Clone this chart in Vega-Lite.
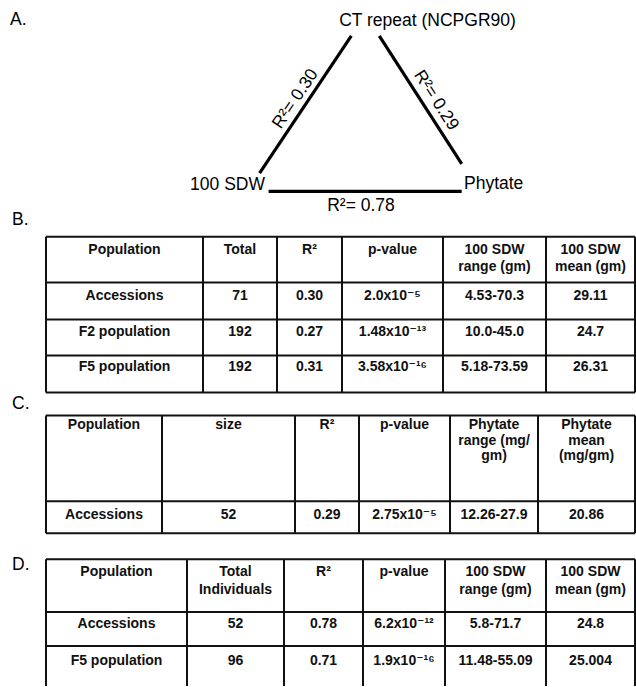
{
  "$schema": "https://vega.github.io/schema/vega-lite/v6.json",
  "width": 636,
  "height": 687,
  "padding": 0,
  "autosize": {"type": "fit", "contains": "padding"},
  "background": "white",
  "config": {"view": {"stroke": null}},
  "datasets": {
    "edges": [
      {"from": "100 SDW", "to": "CT repeat", "x": 259.6, "y": 173.3, "x2": 351.3, "y2": 36},
      {"from": "CT repeat", "to": "Phytate", "x": 379.3, "y": 36, "x2": 461.7, "y2": 164},
      {"from": "100 SDW", "to": "Phytate", "x": 268.6, "y": 191.7, "x2": 461.7, "y2": 191.7}
    ],
    "nodes_center": [
      {"label": "CT repeat (NCPGR90)", "x": 427.5, "y": 21},
      {"label": "R²= 0.78", "x": 361, "y": 206}
    ],
    "nodes_right": [
      {"label": "100 SDW", "x": 265, "y": 185}
    ],
    "nodes_left": [
      {"label": "Phytate", "x": 464, "y": 184}
    ],
    "edge_up": [
      {"label": "R²= 0.30", "x": 295.5, "y": 99}
    ],
    "edge_down": [
      {"label": "R²= 0.29", "x": 436, "y": 100.5}
    ],
    "panels": [
      {"label": "A.", "x": 10, "y": 20},
      {"label": "B.", "x": 12, "y": 220},
      {"label": "C.", "x": 12, "y": 405},
      {"label": "D.", "x": 12, "y": 566}
    ],
    "grid": [
      {"table": "B", "x": 46, "x2": 635, "y": 237, "y2": 237},
      {"table": "B", "x": 46, "x2": 635, "y": 283, "y2": 283},
      {"table": "B", "x": 46, "x2": 635, "y": 320, "y2": 320},
      {"table": "B", "x": 46, "x2": 635, "y": 356, "y2": 356},
      {"table": "B", "x": 46, "x2": 635, "y": 393, "y2": 393},
      {"table": "B", "x": 46, "x2": 46, "y": 237, "y2": 393},
      {"table": "B", "x": 203, "x2": 203, "y": 237, "y2": 393},
      {"table": "B", "x": 277, "x2": 277, "y": 237, "y2": 393},
      {"table": "B", "x": 342, "x2": 342, "y": 237, "y2": 393},
      {"table": "B", "x": 443, "x2": 443, "y": 237, "y2": 393},
      {"table": "B", "x": 546, "x2": 546, "y": 237, "y2": 393},
      {"table": "B", "x": 635, "x2": 635, "y": 237, "y2": 393},
      {"table": "C", "x": 46, "x2": 635, "y": 416, "y2": 416},
      {"table": "C", "x": 46, "x2": 635, "y": 502, "y2": 502},
      {"table": "C", "x": 46, "x2": 635, "y": 534, "y2": 534},
      {"table": "C", "x": 46, "x2": 46, "y": 416, "y2": 534},
      {"table": "C", "x": 162, "x2": 162, "y": 416, "y2": 534},
      {"table": "C", "x": 295, "x2": 295, "y": 416, "y2": 534},
      {"table": "C", "x": 359, "x2": 359, "y": 416, "y2": 534},
      {"table": "C", "x": 450, "x2": 450, "y": 416, "y2": 534},
      {"table": "C", "x": 538, "x2": 538, "y": 416, "y2": 534},
      {"table": "C", "x": 635, "x2": 635, "y": 416, "y2": 534},
      {"table": "D", "x": 46, "x2": 635, "y": 560, "y2": 560},
      {"table": "D", "x": 46, "x2": 635, "y": 613, "y2": 613},
      {"table": "D", "x": 46, "x2": 635, "y": 647, "y2": 647},
      {"table": "D", "x": 46, "x2": 46, "y": 560, "y2": 687},
      {"table": "D", "x": 187, "x2": 187, "y": 560, "y2": 687},
      {"table": "D", "x": 284, "x2": 284, "y": 560, "y2": 687},
      {"table": "D", "x": 363, "x2": 363, "y": 560, "y2": 687},
      {"table": "D", "x": 445, "x2": 445, "y": 560, "y2": 687},
      {"table": "D", "x": 546, "x2": 546, "y": 560, "y2": 687},
      {"table": "D", "x": 635, "x2": 635, "y": 560, "y2": 687}
    ],
    "cells": [
      {"table": "B", "x": 124.5, "y": 250, "text": "Population"},
      {"table": "B", "x": 240, "y": 250, "text": "Total"},
      {"table": "B", "x": 309.5, "y": 250, "text": "R²"},
      {"table": "B", "x": 392.5, "y": 250, "text": "p-value"},
      {"table": "B", "x": 494.5, "y": 250, "text": "100 SDW\nrange (gm)"},
      {"table": "B", "x": 590.5, "y": 250, "text": "100 SDW\nmean (gm)"},
      {"table": "B", "x": 124.5, "y": 296, "text": "Accessions"},
      {"table": "B", "x": 240, "y": 296, "text": "71"},
      {"table": "B", "x": 309.5, "y": 296, "text": "0.30"},
      {"table": "B", "x": 392.5, "y": 296, "text": "2.0x10⁻⁵"},
      {"table": "B", "x": 494.5, "y": 296, "text": "4.53-70.3"},
      {"table": "B", "x": 590.5, "y": 296, "text": "29.11"},
      {"table": "B", "x": 124.5, "y": 332, "text": "F2 population"},
      {"table": "B", "x": 240, "y": 332, "text": "192"},
      {"table": "B", "x": 309.5, "y": 332, "text": "0.27"},
      {"table": "B", "x": 392.5, "y": 332, "text": "1.48x10⁻¹³"},
      {"table": "B", "x": 494.5, "y": 332, "text": "10.0-45.0"},
      {"table": "B", "x": 590.5, "y": 332, "text": "24.7"},
      {"table": "B", "x": 124.5, "y": 368, "text": "F5 population"},
      {"table": "B", "x": 240, "y": 368, "text": "192"},
      {"table": "B", "x": 309.5, "y": 368, "text": "0.31"},
      {"table": "B", "x": 392.5, "y": 368, "text": "3.58x10⁻¹⁶"},
      {"table": "B", "x": 494.5, "y": 368, "text": "5.18-73.59"},
      {"table": "B", "x": 590.5, "y": 368, "text": "26.31"},
      {"table": "C", "x": 104, "y": 426, "text": "Population"},
      {"table": "C", "x": 228.5, "y": 426, "text": "size"},
      {"table": "C", "x": 327, "y": 426, "text": "R²"},
      {"table": "C", "x": 404.5, "y": 426, "text": "p-value"},
      {"table": "C", "x": 494, "y": 426, "text": "Phytate\nrange (mg/\ngm)"},
      {"table": "C", "x": 586.5, "y": 426, "text": "Phytate\nmean\n(mg/gm)"},
      {"table": "C", "x": 104, "y": 516, "text": "Accessions"},
      {"table": "C", "x": 228.5, "y": 516, "text": "52"},
      {"table": "C", "x": 327, "y": 516, "text": "0.29"},
      {"table": "C", "x": 404.5, "y": 516, "text": "2.75x10⁻⁵"},
      {"table": "C", "x": 494, "y": 516, "text": "12.26-27.9"},
      {"table": "C", "x": 586.5, "y": 516, "text": "20.86"},
      {"table": "D", "x": 116.5, "y": 573, "text": "Population"},
      {"table": "D", "x": 235.5, "y": 573, "text": "Total\nIndividuals"},
      {"table": "D", "x": 323.5, "y": 573, "text": "R²"},
      {"table": "D", "x": 404, "y": 573, "text": "p-value"},
      {"table": "D", "x": 495.5, "y": 573, "text": "100 SDW\nrange (gm)"},
      {"table": "D", "x": 590.5, "y": 573, "text": "100 SDW\nmean (gm)"},
      {"table": "D", "x": 116.5, "y": 625, "text": "Accessions"},
      {"table": "D", "x": 235.5, "y": 625, "text": "52"},
      {"table": "D", "x": 323.5, "y": 625, "text": "0.78"},
      {"table": "D", "x": 404, "y": 625, "text": "6.2x10⁻¹²"},
      {"table": "D", "x": 495.5, "y": 625, "text": "5.8-71.7"},
      {"table": "D", "x": 590.5, "y": 625, "text": "24.8"},
      {"table": "D", "x": 116.5, "y": 662, "text": "F5 population"},
      {"table": "D", "x": 235.5, "y": 662, "text": "96"},
      {"table": "D", "x": 323.5, "y": 662, "text": "0.71"},
      {"table": "D", "x": 404, "y": 662, "text": "1.9x10⁻¹⁶"},
      {"table": "D", "x": 495.5, "y": 662, "text": "11.48-55.09"},
      {"table": "D", "x": 590.5, "y": 662, "text": "25.004"}
    ]
  },
  "encoding": {
    "x": {"field": "x", "type": "quantitative", "scale": {"domain": [0, 636], "nice": false, "zero": false}, "axis": null},
    "y": {"field": "y", "type": "quantitative", "scale": {"domain": [0, 687], "nice": false, "zero": false, "reverse": true}, "axis": null}
  },
  "layer": [
    {
      "data": {"name": "edges"},
      "mark": {"type": "rule", "color": "black", "strokeWidth": 3.2},
      "encoding": {"x2": {"field": "x2"}, "y2": {"field": "y2"}}
    },
    {
      "data": {"name": "grid"},
      "mark": {"type": "rule", "color": "#111111", "strokeWidth": 2},
      "encoding": {"x2": {"field": "x2"}, "y2": {"field": "y2"}}
    },
    {
      "data": {"name": "nodes_center"},
      "mark": {"type": "text", "font": "Liberation Sans, DejaVu Sans, sans-serif", "fontSize": 17.5, "align": "center", "baseline": "middle", "color": "black"},
      "encoding": {"text": {"field": "label"}}
    },
    {
      "data": {"name": "nodes_right"},
      "mark": {"type": "text", "font": "Liberation Sans, DejaVu Sans, sans-serif", "fontSize": 17.5, "align": "right", "baseline": "middle", "color": "black"},
      "encoding": {"text": {"field": "label"}}
    },
    {
      "data": {"name": "nodes_left"},
      "mark": {"type": "text", "font": "Liberation Sans, DejaVu Sans, sans-serif", "fontSize": 17.5, "align": "left", "baseline": "middle", "color": "black"},
      "encoding": {"text": {"field": "label"}}
    },
    {
      "data": {"name": "edge_up"},
      "mark": {"type": "text", "font": "Liberation Sans, DejaVu Sans, sans-serif", "fontSize": 17.5, "align": "center", "baseline": "middle", "angle": -56, "color": "black"},
      "encoding": {"text": {"field": "label"}}
    },
    {
      "data": {"name": "edge_down"},
      "mark": {"type": "text", "font": "Liberation Sans, DejaVu Sans, sans-serif", "fontSize": 17.5, "align": "center", "baseline": "middle", "angle": 57, "color": "black"},
      "encoding": {"text": {"field": "label"}}
    },
    {
      "data": {"name": "panels"},
      "mark": {"type": "text", "font": "Liberation Sans, DejaVu Sans, sans-serif", "fontSize": 17.5, "align": "left", "baseline": "middle", "color": "black"},
      "encoding": {"text": {"field": "label"}}
    },
    {
      "data": {"name": "cells"},
      "transform": [{"filter": "datum.table !== 'C'"}],
      "mark": {"type": "text", "font": "Liberation Sans, DejaVu Sans, sans-serif", "fontSize": 14, "fontWeight": "bold", "align": "center", "baseline": "middle", "lineBreak": "\n", "lineHeight": 17.5, "color": "#111111"},
      "encoding": {"text": {"field": "text"}}
    },
    {
      "data": {"name": "cells"},
      "transform": [{"filter": "datum.table === 'C'"}],
      "mark": {"type": "text", "font": "Liberation Sans, DejaVu Sans, sans-serif", "fontSize": 14, "fontWeight": "bold", "align": "center", "baseline": "middle", "lineBreak": "\n", "lineHeight": 15.5, "color": "#111111"},
      "encoding": {"text": {"field": "text"}}
    }
  ]
}
